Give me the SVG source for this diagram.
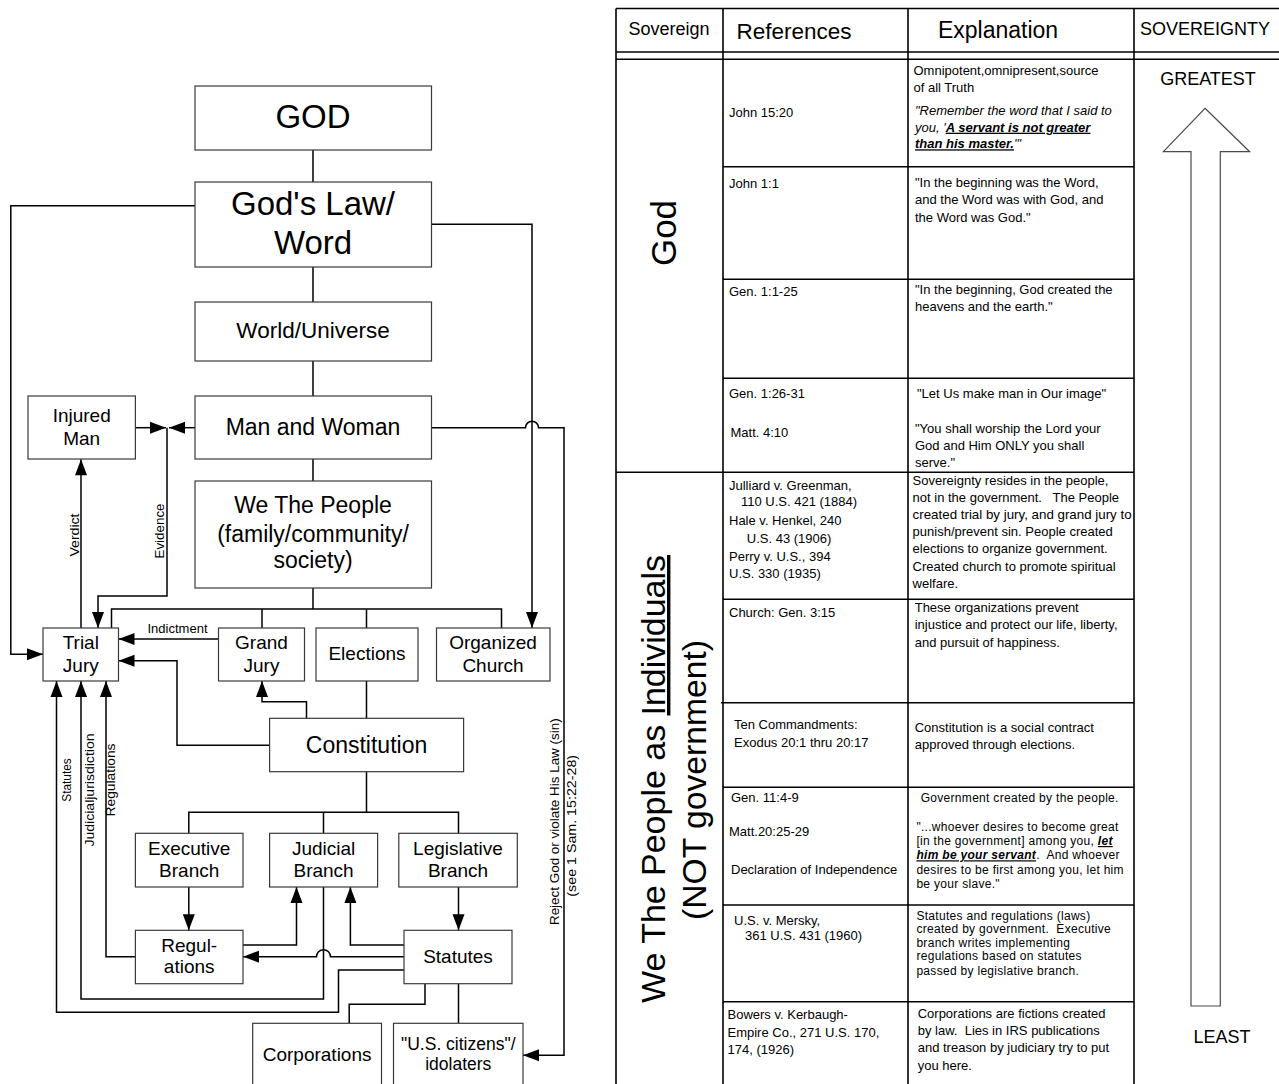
<svg xmlns="http://www.w3.org/2000/svg" width="1279" height="1084" viewBox="0 0 1279 1084">
<style>
.box{fill:#fff;stroke:#3a3a3a;stroke-width:1.2}
.c{fill:none;stroke:#000;stroke-width:1.5}
.t{font-family:"Liberation Sans",Arial,sans-serif;fill:#000}
.m{text-anchor:middle}
.g{stroke:#000;stroke-width:1.6;fill:none}
.s13{font-size:13px}
.s12{font-size:12px;letter-spacing:0.3px}
.pre{white-space:pre}
.bu{font-weight:bold;text-decoration:underline}
</style>
<defs>
<marker id="ah" markerUnits="userSpaceOnUse" markerWidth="17" markerHeight="12" refX="16" refY="6" orient="auto" overflow="visible">
<path d="M0,0 L16,6 L0,12 z" fill="#000"/>
</marker>
</defs>
<rect width="1279" height="1084" fill="#fff"/>

<!-- connectors -->
<g id="connectors" class="c">
<path d="M313,150 V182"/>
<path d="M313,267 V302"/>
<path d="M313,361 V396"/>
<path d="M313,459 V481"/>
<path d="M313,588 V609"/>
<path d="M111.5,628 V609 H501.5 V628"/>
<path d="M262,609 V628"/>
<path d="M366.5,609 V628"/>
<path d="M195,205.7 H10.8 V654.3 H43" marker-end="url(#ah)"/>
<path d="M431.5,224.3 H532 V628" marker-end="url(#ah)"/>
<path d="M431.5,427.7 H525.5 A6.5,6.5 0 0 1 538.5,427.7 H564 V1055.3 H523" marker-end="url(#ah)"/>
<path d="M195,427.7 H169" marker-end="url(#ah)"/>
<path d="M135.4,427.7 H166" marker-end="url(#ah)"/>
<path d="M167,427.7 V596 H98 V628" marker-end="url(#ah)"/>
<path d="M81,628 V459.3" marker-end="url(#ah)"/>
<path d="M218.5,639 H118.5" marker-end="url(#ah)"/>
<path d="M269.6,745.3 H177 V660.7 H118.5" marker-end="url(#ah)"/>
<path d="M306.5,718.3 V701.7 H262 V681" marker-end="url(#ah)"/>
<path d="M366.5,681 V718.3"/>
<path d="M366.5,771.7 V812.3"/>
<path d="M188.8,833.3 V812.3 H458.5 V833.3"/>
<path d="M323.5,812.3 V833.3"/>
<path d="M188.8,887 V930.3" marker-end="url(#ah)"/>
<path d="M458.5,887 V930.3" marker-end="url(#ah)"/>
<path d="M243,945 H296.5 V887" marker-end="url(#ah)"/>
<path d="M404,945 H350.4 V887" marker-end="url(#ah)"/>
<path d="M404,956.7 H330.5 A7,7 0 0 0 316.5,956.7 H243" marker-end="url(#ah)"/>
<path d="M323.5,887 V999 H81 V681" marker-end="url(#ah)"/>
<path d="M135.4,956.7 H106 V681" marker-end="url(#ah)"/>
<path d="M404,970 H338.5 V1012.3 H56.5 V681" marker-end="url(#ah)"/>
<path d="M425,983.7 V1004.3 H349.2 V1023.3"/>
<path d="M458.5,983.7 V1023.3"/>
</g>

<!-- connector labels -->
<g id="connector-labels" class="t s13">
<text transform="translate(78.5,535) rotate(-90)" class="m" textLength="43" lengthAdjust="spacingAndGlyphs">Verdict</text>
<text transform="translate(163.5,531) rotate(-90)" class="m" textLength="55" lengthAdjust="spacingAndGlyphs">Evidence</text>
<text x="177.5" y="633.3" class="m" textLength="60" lengthAdjust="spacingAndGlyphs">Indictment</text>
<text transform="translate(70.5,780) rotate(-90)" class="m" textLength="43.3" lengthAdjust="spacingAndGlyphs">Statutes</text>
<text transform="translate(94,790) rotate(-90)" class="m" textLength="113" lengthAdjust="spacingAndGlyphs">Judicialjurisdiction</text>
<text transform="translate(115.3,780) rotate(-90)" class="m" textLength="73" lengthAdjust="spacingAndGlyphs">Regulations</text>
<text transform="translate(559,821.7) rotate(-90)" class="m" textLength="206.7" lengthAdjust="spacingAndGlyphs">Reject God or violate His Law (sin)</text>
<text transform="translate(575.6,825.8) rotate(-90)" class="m" textLength="141.7" lengthAdjust="spacingAndGlyphs">(see 1 Sam. 15:22-28)</text>
</g>

<!-- nodes -->
<g id="n-god"><rect class="box" x="195" y="86" width="236.5" height="64"/><text class="t m" x="313" y="128" font-size="33">GOD</text></g>
<g id="n-law"><rect class="box" x="195" y="182" width="236.5" height="85"/><text class="t m" x="313" y="215" font-size="33">God's Law/</text><text class="t m" x="313" y="254" font-size="33">Word</text></g>
<g id="n-world"><rect class="box" x="195" y="302" width="236.5" height="59"/><text class="t m" x="313" y="338" font-size="22.5">World/Universe</text></g>
<g id="n-man"><rect class="box" x="195" y="396" width="236.5" height="63"/><text class="t m" x="313" y="435" font-size="23">Man and Woman</text></g>
<g id="n-injured"><rect class="box" x="28" y="396" width="107.4" height="63"/><text class="t m" x="81.7" y="421.7" font-size="19">Injured</text><text class="t m" x="81.7" y="445" font-size="19">Man</text></g>
<g id="n-people"><rect class="box" x="195" y="481" width="236.5" height="107"/><text class="t m" x="313" y="512.7" font-size="23">We The People</text><text class="t m" x="313" y="541.7" font-size="23">(family/community/</text><text class="t m" x="313" y="568" font-size="23">society)</text></g>
<g id="n-trial"><rect class="box" x="43" y="628" width="75.5" height="53"/><text class="t m" x="80.8" y="649.3" font-size="19">Trial</text><text class="t m" x="80.8" y="671.7" font-size="19">Jury</text></g>
<g id="n-grand"><rect class="box" x="218.5" y="628" width="86" height="53"/><text class="t m" x="261.5" y="649.3" font-size="19">Grand</text><text class="t m" x="261.5" y="671.7" font-size="19">Jury</text></g>
<g id="n-elections"><rect class="box" x="316" y="628" width="102" height="53"/><text class="t m" x="367" y="660" font-size="19">Elections</text></g>
<g id="n-church"><rect class="box" x="436.5" y="628" width="113.5" height="53"/><text class="t m" x="493" y="649.3" font-size="19">Organized</text><text class="t m" x="493" y="671.7" font-size="19">Church</text></g>
<g id="n-constitution"><rect class="box" x="269.6" y="718.3" width="194" height="53.4"/><text class="t m" x="366.5" y="752.7" font-size="23">Constitution</text></g>
<g id="n-executive"><rect class="box" x="135.4" y="833.3" width="107.6" height="53.7"/><text class="t m" x="189.2" y="855" font-size="19">Executive</text><text class="t m" x="189.2" y="876.7" font-size="19">Branch</text></g>
<g id="n-judicial"><rect class="box" x="269.6" y="833.3" width="108" height="53.7"/><text class="t m" x="323.6" y="855" font-size="19">Judicial</text><text class="t m" x="323.6" y="876.7" font-size="19">Branch</text></g>
<g id="n-legislative"><rect class="box" x="398.8" y="833.3" width="118.5" height="53.7"/><text class="t m" x="458" y="855" font-size="19">Legislative</text><text class="t m" x="458" y="876.7" font-size="19">Branch</text></g>
<g id="n-regulations"><rect class="box" x="135.4" y="930.3" width="107.6" height="53.4"/><text class="t m" x="189.2" y="951.7" font-size="19">Regul-</text><text class="t m" x="189.2" y="973.3" font-size="19">ations</text></g>
<g id="n-statutes"><rect class="box" x="404" y="930.3" width="108" height="53.4"/><text class="t m" x="458" y="962.7" font-size="19">Statutes</text></g>
<g id="n-corporations"><rect class="box" x="252.7" y="1023.3" width="128.8" height="75"/><text class="t m" x="317.1" y="1061" font-size="19">Corporations</text></g>
<g id="n-citizens"><rect class="box" x="393.5" y="1023.3" width="129.5" height="75"/><text class="t m" x="458.3" y="1050" font-size="17.5">"U.S. citizens"/</text><text class="t m" x="458.3" y="1070" font-size="17.5">idolaters</text></g>

<!-- table -->
<g id="table-grid" class="g">
<path d="M616,8.5 H1279"/>
<path d="M616,52 H1279"/>
<path d="M616,59.3 H1279"/>
<path d="M616,8.5 V1084"/>
<path d="M723,8.5 V1084"/>
<path d="M908,8.5 V1084"/>
<path d="M1134,8.5 V1084"/>
<path d="M723,166.7 H1134"/>
<path d="M723,279.3 H1134"/>
<path d="M723,378.3 H1134"/>
<path d="M616,472.3 H1134"/>
<path d="M723,599.3 H1134"/>
<path d="M721,702.7 H1134"/>
<path d="M723,787.3 H1134"/>
<path d="M723,905 H1134"/>
<path d="M723,1001.7 H1134"/>
</g>
<g id="table-header" class="t">
<text x="669" y="35" class="m" font-size="18">Sovereign</text>
<text x="794" y="39.3" class="m" font-size="22.5">References</text>
<text x="998" y="38.3" class="m" font-size="23">Explanation</text>
<text x="1205" y="35" class="m" font-size="18">SOVEREIGNTY</text>
</g>
<g id="sovereign-col" class="t">
<text transform="translate(676,233) rotate(-90)" class="m" font-size="35">God</text>
<text transform="translate(665,779) rotate(-90)" class="m" font-size="34" textLength="448" lengthAdjust="spacingAndGlyphs">We The People as <tspan text-decoration="underline">Individuals</tspan></text>
<text transform="translate(706,780) rotate(-90)" class="m" font-size="34" textLength="280" lengthAdjust="spacingAndGlyphs">(NOT government)</text>
</g>
<g id="references-col" class="t s13">
<text x="729" y="117.3">John 15:20</text>
<text x="729" y="188.3">John 1:1</text>
<text x="729" y="296">Gen. 1:1-25</text>
<text x="729" y="398.3">Gen. 1:26-31</text>
<text x="730.5" y="437.3">Matt. 4:10</text>
<text x="729" y="490">Julliard v. Greenman,</text>
<text x="741" y="506">110 U.S. 421 (1884)</text>
<text x="729" y="525">Hale v. Henkel, 240</text>
<text x="746.8" y="542.7">U.S. 43 (1906)</text>
<text x="729" y="561">Perry v. U.S., 394</text>
<text x="729" y="578.3">U.S. 330 (1935)</text>
<text x="729" y="617.3">Church: Gen. 3:15</text>
<text x="734" y="729.3">Ten Commandments:</text>
<text x="734" y="746.7">Exodus 20:1 thru 20:17</text>
<text x="731" y="802.3">Gen. 11:4-9</text>
<text x="729" y="836">Matt.20:25-29</text>
<text x="731" y="874">Declaration of Independence</text>
<text x="734" y="925">U.S. v. Mersky,</text>
<text x="745" y="940">361 U.S. 431 (1960)</text>
<text x="727.5" y="1019.3">Bowers v. Kerbaugh-</text>
<text x="727.5" y="1036.7">Empire Co., 271 U.S. 170,</text>
<text x="727.5" y="1054.3">174, (1926)</text>
</g>
<g id="explanation-col" class="t s13">
<text x="913.5" y="75">Omnipotent,omnipresent,source</text>
<text x="913.5" y="91.7">of all Truth</text>
<text x="915" y="115" font-style="italic">"Remember the word that I said to</text>
<text x="915" y="131.7" font-style="italic">you, '<tspan class="bu">A servant is not greater</tspan></text>
<text x="915" y="148.3" font-style="italic"><tspan class="bu">than his master.</tspan>'"</text>
<text x="915" y="186.7">"In the beginning was the Word,</text>
<text x="915" y="204.3">and the Word was with God, and</text>
<text x="915" y="221.7">the Word was God."</text>
<text x="915" y="294">"In the beginning, God created the</text>
<text x="915" y="310.7">heavens and the earth."</text>
<text x="917" y="398.3">"Let Us make man in Our image"</text>
<text x="915" y="432.7">"You shall worship the Lord your</text>
<text x="915" y="450">God and Him ONLY you shall</text>
<text x="915" y="466.7">serve."</text>
<text x="912.6" y="485">Sovereignty resides in the people,</text>
<text x="912.6" y="502.3" class="pre">not in the government.   The People</text>
<text x="912.6" y="519.3" textLength="219" lengthAdjust="spacingAndGlyphs">created trial by jury, and grand jury to</text>
<text x="912.6" y="536">punish/prevent sin. People created</text>
<text x="912.6" y="553.3">elections to organize government.</text>
<text x="912.6" y="571">Created church to promote spiritual</text>
<text x="912.6" y="588.3">welfare.</text>
<text x="914.7" y="611.7">These organizations prevent</text>
<text x="914.7" y="629.3">injustice and protect our life, liberty,</text>
<text x="914.7" y="646.7">and pursuit of happiness.</text>
<text x="914.7" y="731.7">Constitution is a social contract</text>
<text x="914.7" y="749">approved through elections.</text>
<text x="917.7" y="1018.3">Corporations are fictions created</text>
<text x="917.7" y="1035" class="pre">by law.  Lies in IRS publications</text>
<text x="917.7" y="1051.7">and treason by judiciary try to put</text>
<text x="917.7" y="1070">you here.</text>
</g>
<g id="explanation-small" class="t s12">
<text x="920.7" y="801.7">Government created by the people.</text>
<text x="916.4" y="830.7">"...whoever desires to become great</text>
<text x="916.4" y="845">[in the government] among you, <tspan class="bu" font-style="italic">let</tspan></text>
<text x="916.4" y="859.3" class="pre"><tspan class="bu" font-style="italic">him be your servant</tspan>.  And whoever</text>
<text x="916.4" y="874">desires to be first among you, let him</text>
<text x="916.4" y="887.7">be your slave."</text>
<text x="916.4" y="920">Statutes and regulations (laws)</text>
<text x="916.4" y="933.3" class="pre">created by government.  Executive</text>
<text x="916.4" y="946.7">branch writes implementing</text>
<text x="916.4" y="960">regulations based on statutes</text>
<text x="916.4" y="975">passed by legislative branch.</text>
</g>
<g id="sovereignty-col">
<text class="t m" x="1208" y="85" font-size="18">GREATEST</text>
<polygon points="1205,108.3 1249.7,151.7 1220.3,151.7 1220.3,1006 1191,1006 1191,151.7 1163.4,151.7" fill="#fff" stroke="#4a4a4a" stroke-width="1.2"/>
<text class="t m" x="1222" y="1043.3" font-size="18">LEAST</text>
</g>
</svg>
